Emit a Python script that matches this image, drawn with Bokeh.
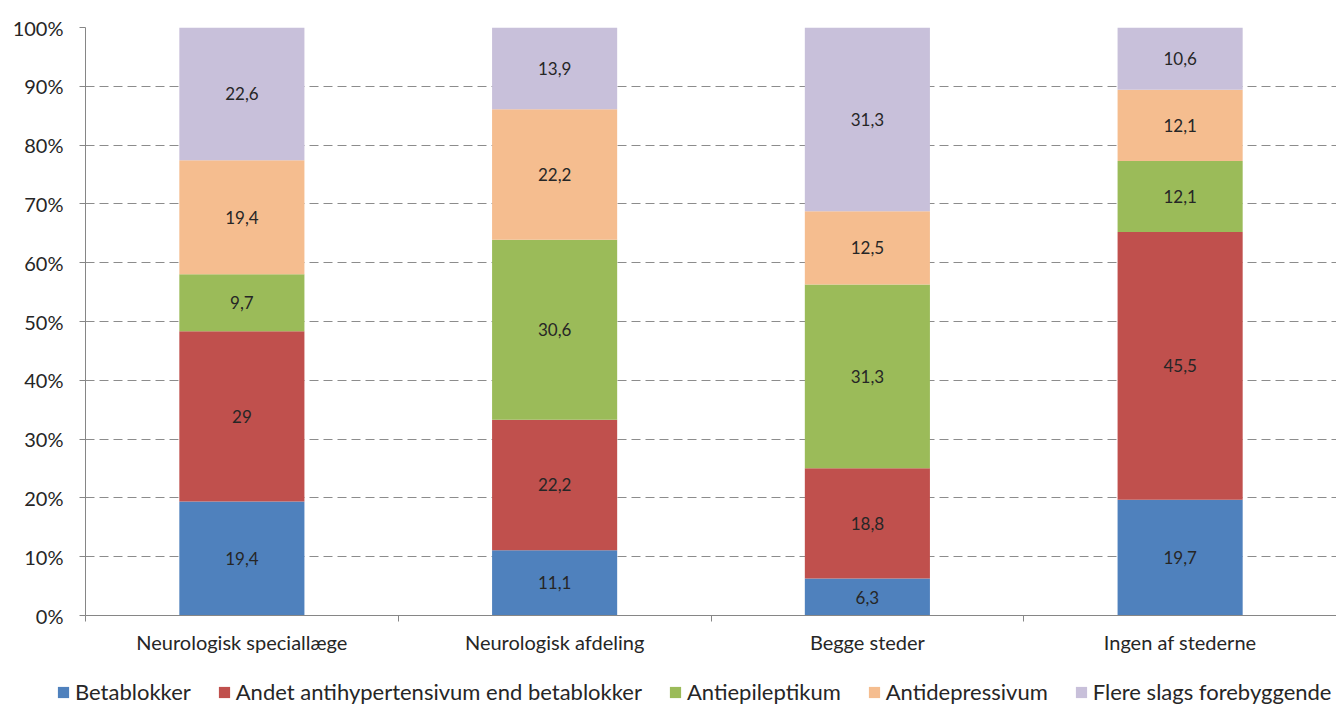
from bokeh.plotting import figure
from bokeh.models import (ColumnDataSource, Range1d, FixedTicker, Legend, LegendItem,
                          NumeralTickFormatter)
from bokeh.layouts import column, row
from bokeh.embed import file_html
from bokeh.resources import INLINE

categories = ["Neurologisk speciallæge", "Neurologisk afdeling", "Begge steder", "Ingen af stederne"]
series = ["Betablokker", "Andet antihypertensivum end betablokker", "Antiepileptikum",
          "Antidepressivum", "Flere slags forebyggende"]
betablokker = [19.4, 11.1, 6.3, 19.7]
andet = [29.0, 22.2, 18.8, 45.5]
antiepileptikum = [9.7, 30.6, 31.3, 12.1]
antidepressivum = [19.4, 22.2, 12.5, 12.1]
flere = [22.6, 13.9, 31.3, 10.6]
labels = [
    ["19,4", "11,1", "6,3", "19,7"],
    ["29", "22,2", "18,8", "45,5"],
    ["9,7", "30,6", "31,3", "12,1"],
    ["19,4", "22,2", "12,5", "12,1"],
    ["22,6", "13,9", "31,3", "10,6"],
]
colors = ["#4F81BD", "#C0504D", "#9BBB59", "#F5BD8F", "#C8C0DA"]

values = [betablokker, andet, antiepileptikum, antidepressivum, flere]
totals = [sum(v[i] for v in values) for i in range(len(categories))]
xs = [i + 0.5 for i in range(len(categories))]

FONT = "Lato"
W = 1336

p = figure(width=W, height=659, output_backend="svg", toolbar_location=None,
           x_range=Range1d(0, 4), y_range=Range1d(0, 1),
           min_border_left=85, min_border_right=0, min_border_top=27,
           min_border_bottom=44)
p.outline_line_color = None

data = {"x": xs}
keys = []
for k, v in enumerate(values):
    key = f"s{k}"
    keys.append(key)
    data[key] = [v[i] / totals[i] for i in range(len(categories))]
src = ColumnDataSource(data)

renderers = p.vbar_stack(keys, x="x", width=0.4, source=src, color=colors, line_color=None)

# labels
lx, ly, lt = [], [], []
for i in range(len(categories)):
    cum = 0.0
    for k, v in enumerate(values):
        frac = v[i] / totals[i]
        lx.append(xs[i])
        ly.append(cum + frac / 2)
        lt.append(labels[k][i])
        cum += frac
p.text(x=lx, y=ly, text=lt, text_align="center", text_baseline="middle",
       text_font_size="17px", text_color="#262626", text_font={"value": FONT})

# axes
p.yaxis.ticker = FixedTicker(ticks=[i / 10 for i in range(11)])
p.yaxis.formatter = NumeralTickFormatter(format="0%")
p.yaxis.major_label_text_font_size = "20px"
p.yaxis.major_label_text_font = FONT
p.yaxis.major_label_text_color = "#262626"
p.yaxis.axis_line_color = "#868686"
p.yaxis.major_tick_line_color = "#868686"
p.yaxis.major_tick_in = 0
p.yaxis.major_tick_out = 6
p.yaxis.minor_tick_line_color = None
p.yaxis.major_label_standoff = 16

p.xaxis.ticker = FixedTicker(ticks=xs, minor_ticks=[0, 1, 2, 3, 4])
p.xaxis.major_label_overrides = {x: c for x, c in zip(xs, categories)}
p.xaxis.major_label_text_font_size = "20px"
p.xaxis.major_label_text_font = FONT
p.xaxis.major_label_text_color = "#262626"
p.xaxis.axis_line_color = "#868686"
p.xaxis.major_tick_line_color = None
p.xaxis.minor_tick_line_color = "#868686"
p.xaxis.minor_tick_in = 0
p.xaxis.minor_tick_out = 6
p.xaxis.major_label_standoff = 8

p.xgrid.grid_line_color = None
p.ygrid.grid_line_color = "#8C8C8C"
p.ygrid.grid_line_dash = "9 5"
p.ygrid.grid_line_width = 1.2

# legend in a separate strip below
p2 = figure(width=W, height=48, output_backend="svg", toolbar_location=None,
            x_range=Range1d(0, 1), y_range=Range1d(0, 1),
            x_axis_location=None, y_axis_location=None,
            min_border_left=0, min_border_right=0, min_border_top=0, min_border_bottom=0)
try:
    p2.frame_align = False
except Exception:
    pass
p2.outline_line_color = None
p2.grid.grid_line_color = None
dummies = [p2.vbar(x=[5], top=[0.5], width=0.1, color=c, line_color=None) for c in colors]
legend = Legend(items=[LegendItem(label=s, renderers=[r]) for s, r in zip(series, dummies)],
                orientation="horizontal", location=(56, 2),
                label_text_font=FONT, label_text_font_size="22px", label_text_color="#262626",
                glyph_width=14, glyph_height=14, label_standoff=5, spacing=26,
                border_line_color=None, background_fill_alpha=0, padding=0, margin=0)
p2.add_layout(legend, "center")

layout = column(p, row(p2, spacing=0), spacing=0)
open("out.html", "w").write(file_html(layout, INLINE))
